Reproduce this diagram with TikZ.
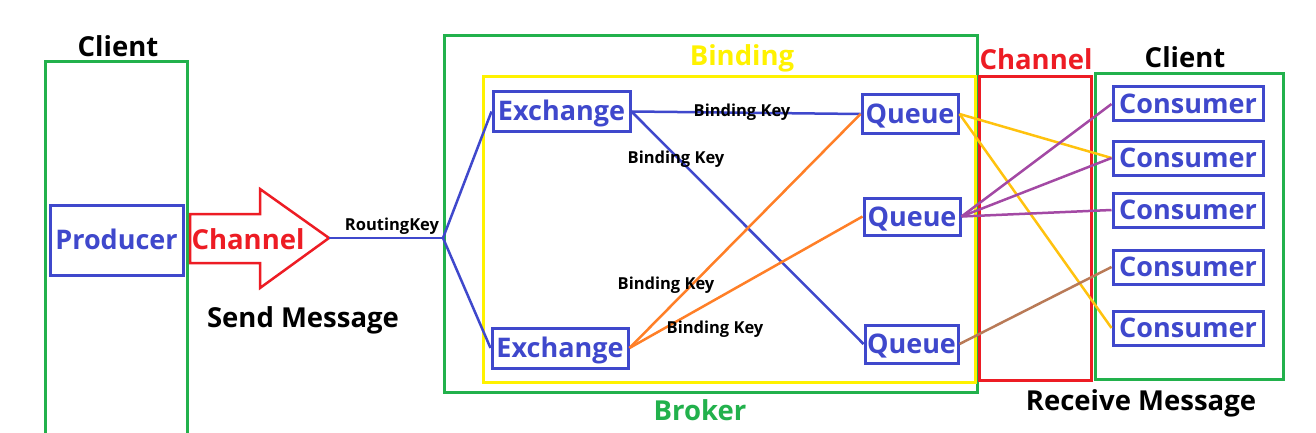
\documentclass[tikz,border=0pt]{standalone}
\usepackage{fontspec}
\setmainfont{Open Sans}
\definecolor{pblue}{HTML}{3F48CC}
\definecolor{pgreen}{HTML}{22B14C}
\definecolor{pred}{HTML}{ED1C24}
\definecolor{pyellow}{HTML}{FFF200}
\definecolor{pgold}{HTML}{FFC20E}
\definecolor{ppurple}{HTML}{A349A4}
\definecolor{pbrown}{HTML}{B97A57}
\definecolor{porange}{HTML}{FF7F27}
\tikzset{
  comp/.style={draw=pblue, line width=3pt, text=pblue, inner sep=0pt,
    text height=21pt, text depth=2pt,
    font=\bfseries\fontsize{27}{27}\selectfont},
  frame/.style={line width=3pt},
  title/.style={font=\bfseries\fontsize{27.5}{27.5}\selectfont,
    text height=21pt, text depth=2pt},
  keylbl/.style={font=\bfseries\fontsize{16.5}{16.5}\selectfont, inner sep=0pt,
    text height=13pt, text depth=1pt},
  link/.style={line width=2.5pt},
}
\begin{document}
\begin{tikzpicture}[x=1pt,y=-1pt]
\useasboundingbox[fill=white] (0,0) rectangle (1316,433);

% client on the left
\draw[frame,pgreen] (45,440) -- (45,62) -- (187,62) -- (187,440);
\node[title] (cl1) at (118,47) {Client};
\node[comp, minimum width=133pt, minimum height=70pt] (prod) at (116.5,240) {Producer};

% channel arrow
\draw[frame,pred,line width=2.5pt] (190,214) -- (260,214) -- (260,189) -- (329,238)
  -- (260,288) -- (260,263) -- (190,263) -- cycle;
\coordinate (chtip) at (329,238);
\node[title,pred] (ch1) at (248,240) {Channel};
\node[title] (send) at (303,318) {Send Message};

% broker and binding
\draw[frame,pgreen] (444,36) rectangle (977,392);
\draw[frame,pyellow] (483,77) rectangle (975,382);
\node[title,pgreen] (broker) at (700,411) {Broker};
\node[title,pyellow] (bind) at (742,56) {Binding};

\node[comp, minimum width=137pt, minimum height=39pt] (ex1) at (561.5,111.5) {Exchange};
\node[comp, minimum width=136pt, minimum height=40pt] (ex2) at (560,348) {Exchange};
\node[comp, minimum width=96pt, minimum height=38pt] (q1) at (910,114) {Queue};
\node[comp, minimum width=96pt, minimum height=37pt] (q2) at (912,216.5) {Queue};
\node[comp, minimum width=93pt, minimum height=38pt] (q3) at (911.5,344) {Queue};

\coordinate (split) at (443,238);
\draw[link,pblue] (chtip) -- (split);
\draw[link,pblue] (split) -- (ex1.west);
\draw[link,pblue] (split) -- (ex2.west);
\node[keylbl] (rk) at (392,224) {RoutingKey};

\draw[link,pblue] (ex1.east) -- (q1.west);
\draw[link,pblue] (ex1.east) -- (q3.west);
\draw[link,porange] (ex2.east) -- (q1.west);
\draw[link,porange] (ex2.east) -- (q2.west);
\node[keylbl] (bk1) at (742,111) {Binding Key};
\node[keylbl] (bk2) at (676,157) {Binding Key};
\node[keylbl] (bk3) at (666,283) {Binding Key};
\node[keylbl] (bk4) at (715,327) {Binding Key};

% channel and client on the right
\draw[frame,pred] (979,77) rectangle (1091,380);
\node[title,pred] (ch2) at (1036,60) {Channel};
\draw[frame,pgreen] (1095,74) rectangle (1283,379);
\node[title] (cl2) at (1185,58) {Client};
\node[title] (recv) at (1141,401) {Receive Message};

\foreach \i/\y in {1/104,2/158,3/210,4/267,5/328}
  \node[comp, minimum width=150pt, minimum height=34pt] (c\i) at (1188,\y) {Consumer};

\draw[link,pgold] (q1.east) -- (c2.west);
\draw[link,pgold] (q1.east) -- (c5.west);
\draw[link,ppurple] (q2.east) -- (c1.west);
\draw[link,ppurple] (q2.east) -- (c2.west);
\draw[link,ppurple] (q2.east) -- (c3.west);
\draw[link,pbrown] (q3.east) -- (c4.west);
\end{tikzpicture}
\end{document}
